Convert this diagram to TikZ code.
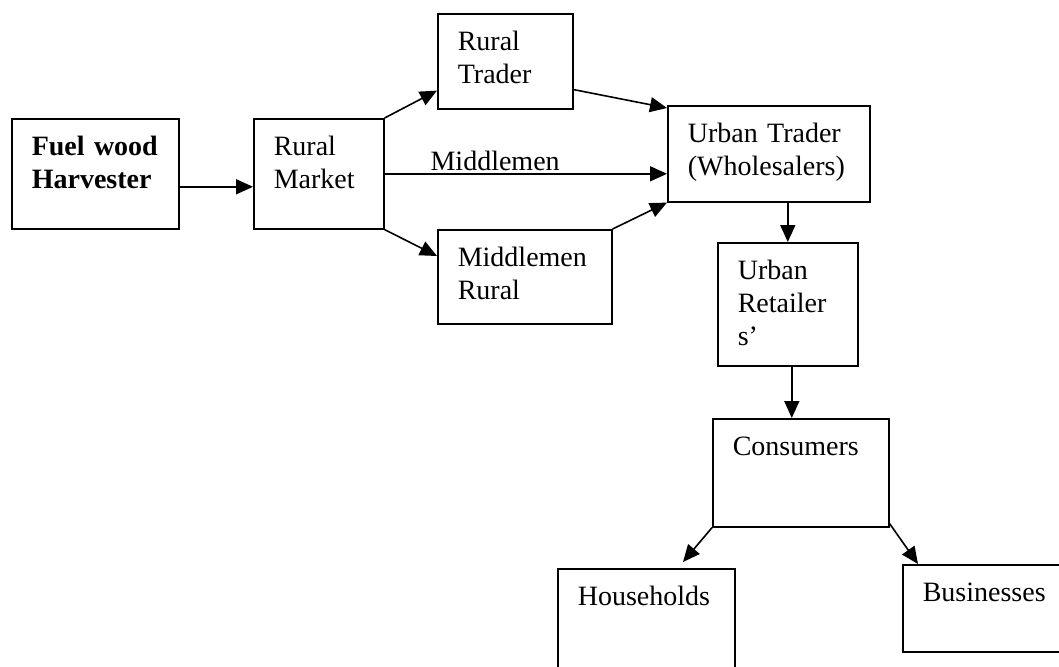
\documentclass[tikz,border=0pt]{standalone}
\usepackage{fontspec}
\setmainfont{Liberation Serif}
\usetikzlibrary{arrows.meta}

\begin{document}
\begin{tikzpicture}[x=1pt,y=-1pt,
    blk/.style={draw,line width=1.6pt,anchor=north west,inner xsep=20pt,inner ysep=0pt,
      text height=37pt,align=left,font=\fontsize{28}{33}\selectfont},
    arr/.style={-{Triangle[length=17pt,width=15pt]},line width=1.6pt}]
    \useasboundingbox (0,0) rectangle (1059,666);
    \clip (0,0) rectangle (1059,666);

    % rural side
    \node[blk,text width=127pt,text depth=73pt,font=\fontsize{28}{33}\selectfont\bfseries] (harv) at (11,118) {Fuel wood\\Harvester};
    \node[blk,text width=90pt,text depth=73pt] (market) at (253,118) {Rural\\Market};
    \node[blk,text width=95pt,text depth=58pt] (rtrader) at (437,13) {Rural\\Trader};
    \node[blk,text width=134pt,text depth=57pt] (mrural) at (437,229) {Middlemen\\Rural};

    % urban side
    \node[blk,text width=162pt,text depth=59pt] (utrader) at (667,105) {Urban Trader\\(Wholesalers)};
    \node[blk,text width=100pt,text depth=86pt] (uretail) at (717,242) {Urban\\Retailer\\s’};
    \node[blk,text width=136pt,text depth=71pt] (consum) at (712,418) {Consumers};
    \node[blk,text width=137pt,text depth=93pt] (house) at (557,568) {Households};
    \node[blk,text width=140pt,text depth=50pt] (busin) at (902,564) {Businesses};

    \draw[arr] ([yshift=-13pt]harv.east) -- ([yshift=-13pt]market.west);
    \draw[arr] (market.north east) -- ([yshift=19pt]rtrader.south west);
    \draw[arr] (market.east) -- (market.east -| utrader.west)
        node[pos=0.16,anchor=base west,yshift=3pt,inner sep=0pt,font=\fontsize{28}{33}\selectfont] (midlab) {Middlemen};
    \draw[arr] (market.south east) -- ([yshift=-27pt]mrural.north west);
    \draw[arr] ([yshift=20pt]rtrader.south east) -- ([yshift=-3pt]utrader.north west);
    \draw[arr] (mrural.north east) -- (utrader.south west);
    \draw[arr] (uretail.north |- utrader.south) -- (uretail.north);
    \draw[arr] ([xshift=4pt]uretail.south) -- ([xshift=4pt]uretail.south |- consum.north);
    \draw[arr] (consum.south west) -- ([shift={(126pt,6pt)}]house.north west);
    \draw[arr] ([yshift=4pt]consum.south east) -- ([xshift=16pt]busin.north west);
\end{tikzpicture}
\end{document}
